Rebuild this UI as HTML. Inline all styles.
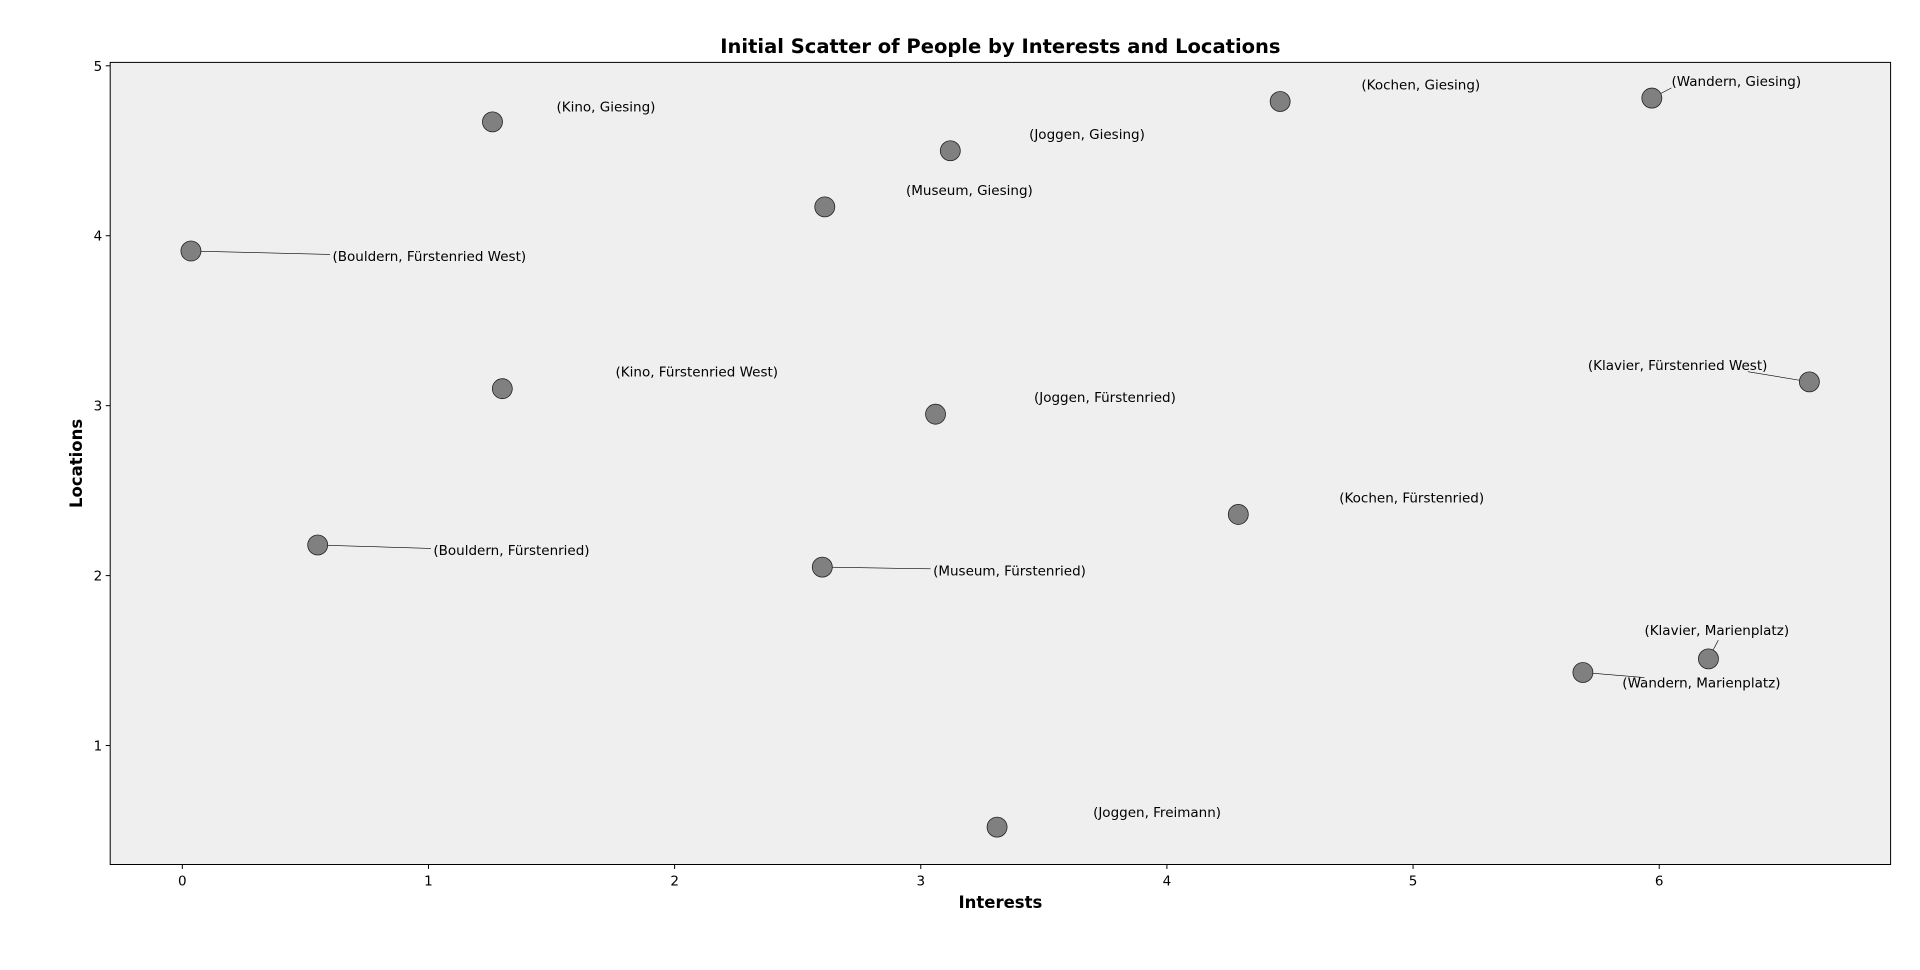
<!DOCTYPE html>
<html><head><meta charset="utf-8"><style>
body{margin:0;background:#fff;}
svg text{font-family:"DejaVu Sans","Liberation Sans",sans-serif;}
</style></head><body>
<svg id="chart" width="1920" height="965" xmlns="http://www.w3.org/2000/svg"></svg>
<script>
const labels=["(Kino, Giesing)","(Joggen, Giesing)","(Museum, Giesing)","(Kochen, Giesing)","(Wandern, Giesing)","(Bouldern, Fürstenried West)","(Kino, Fürstenried West)","(Joggen, Fürstenried)","(Klavier, Fürstenried West)","(Kochen, Fürstenried)","(Bouldern, Fürstenried)","(Museum, Fürstenried)","(Klavier, Marienplatz)","(Wandern, Marienplatz)","(Joggen, Freimann)"];
const xs=[1.26,3.12,2.61,4.46,5.97,0.035,1.30,3.06,6.61,4.29,0.55,2.60,6.20,5.69,3.31];
const ys=[4.67,4.50,4.17,4.79,4.81,3.91,3.10,2.95,3.14,2.36,2.18,2.05,1.51,1.43,0.52];
const labelXs=[1.52,3.44,2.94,4.79,6.05,0.61,1.76,3.46,5.71,4.70,1.02,3.05,5.94,5.85,3.70];
const labelYs=[4.76,4.60,4.27,4.89,4.91,3.88,3.20,3.05,3.24,2.46,2.15,2.03,1.68,1.37,0.61];
const connXs=[null,null,null,null,6.05,0.60,null,null,6.36,null,1.01,3.04,6.24,5.94,null];
const connYs=[null,null,null,null,4.87,3.89,null,null,3.20,null,2.16,2.04,1.62,1.40,null];
const xTicks=[0,1,2,3,4,5,6];
const yTicks=[1,2,3,4,5];
const L=110.2,R=1890.6,T=62.4,B=864.5;
const xmin=-0.293,xmax=6.94,ymin=0.30,ymax=5.02;
const sx=v=>L+(v-xmin)/(xmax-xmin)*(R-L);
const sy=v=>B-(v-ymin)/(ymax-ymin)*(B-T);
const svg=document.getElementById('chart');
const NS='http://www.w3.org/2000/svg';
function mk(tag,attrs,parent){const e=document.createElementNS(NS,tag);for(const k in attrs)e.setAttribute(k,attrs[k]);(parent||svg).appendChild(e);return e;}
let e;
e=mk('rect',{x:L,y:T,width:R-L,height:B-T,fill:'#efefef'});


e=mk('text',{x:(L+R)/2,y:53,'text-anchor':'middle','font-size':'19.5','font-weight':'bold',fill:'#000'});e.textContent='Initial Scatter of People by Interests and Locations';


xTicks.forEach(t=>{
 const g=mk('g',{});
 
 
 mk('line',{x1:sx(t),x2:sx(t),y1:B,y2:B+4.5,stroke:'#000','stroke-width':1},g);
 const tx=mk('text',{x:sx(t),y:B+21,'text-anchor':'middle','font-size':'13.5'},g);tx.textContent=t;
});
yTicks.forEach(t=>{
 const g=mk('g',{});
 
 
 mk('line',{x1:L-4.5,x2:L,y1:sy(t),y2:sy(t),stroke:'#000','stroke-width':1},g);
 const tx=mk('text',{x:L-8,y:sy(t)+5,'text-anchor':'end','font-size':'13.5'},g);tx.textContent=t;
});
e=mk('text',{x:(L+R)/2,y:908,'text-anchor':'middle','font-size':'16.5','font-weight':'bold'});e.textContent='Interests';


e=mk('text',{x:0,y:0,'text-anchor':'middle','font-size':'16.5','font-weight':'bold',transform:`translate(82,${(T+B)/2}) rotate(-90)`});e.textContent='Locations';


xs.forEach((x,i)=>{
 if(connXs[i]!==null){
  const ln=mk('line',{x1:sx(connXs[i]),y1:sy(connYs[i]),x2:sx(x),y2:sy(ys[i]),stroke:'#000','stroke-width':0.6});
  
  
 }
});
xs.forEach((x,i)=>{
 const c=mk('circle',{cx:sx(x),cy:sy(ys[i]),r:10,fill:'#808080',stroke:'#222','stroke-width':0.8});
 
 
});
labels.forEach((s,i)=>{
 const t=mk('text',{x:sx(labelXs[i]),y:sy(labelYs[i])+5,'font-size':'13.5',fill:'#000'});
 t.textContent=s;
 
 
});
e=mk('rect',{x:L,y:T,width:R-L,height:B-T,fill:'none',stroke:'#000','stroke-width':1});


</script>
</body></html>
